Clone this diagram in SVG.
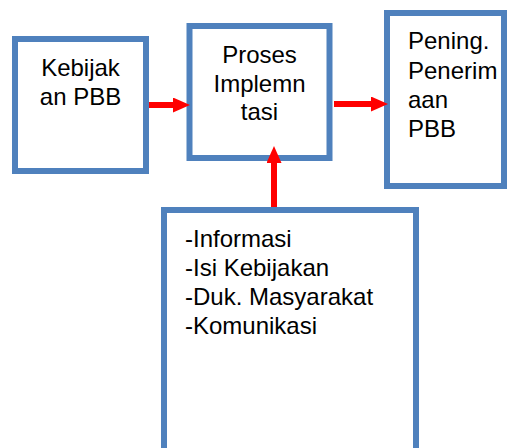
<svg xmlns="http://www.w3.org/2000/svg" width="507" height="448" viewBox="0 0 507 448">
<style>
.box{fill:#fff;stroke:#4F81BD;stroke-width:6}
.t{font-family:"Liberation Sans",Arial,sans-serif;font-size:24px;fill:#000}
.c{text-anchor:middle}
.arr{stroke:#FF0000;stroke-width:6;fill:none;marker-end:url(#ah)}
</style>
<defs>
<marker id="ah" viewBox="0 0 17 15" refX="0" refY="7.5" markerWidth="17" markerHeight="15" markerUnits="userSpaceOnUse" orient="auto">
<path d="M0,0 L17,7.5 L0,15 Z" fill="#FF0000"/>
</marker>
</defs>
<g id="kebijakan">
<rect class="box" x="15" y="39" width="131" height="132"/>
<text class="t c" x="80.5" y="76">Kebijak</text>
<text class="t c" x="80.5" y="105">an PBB</text>
</g>
<g id="proses">
<rect class="box" x="189.5" y="26" width="140" height="132"/>
<text class="t c" x="259.5" y="63">Proses</text>
<text class="t c" x="259.5" y="92">Implemn</text>
<text class="t c" x="259.5" y="120">tasi</text>
</g>
<g id="peningkatan">
<rect class="box" x="387" y="13" width="117" height="173"/>
<text class="t" x="408" y="49">Pening.</text>
<text class="t" x="408" y="79">Penerim</text>
<text class="t" x="408" y="108">aan</text>
<text class="t" x="408" y="137">PBB</text>
</g>
<g id="faktor">
<rect class="box" x="164" y="210" width="252" height="260"/>
<text class="t" x="185" y="247">-Informasi</text>
<text class="t" x="185" y="276">-Isi Kebijakan</text>
<text class="t" x="185" y="305">-Duk. Masyarakat</text>
<text class="t" x="185" y="334">-Komunikasi</text>
</g>
<g id="connectors">
<line class="arr" x1="149" y1="105" x2="173" y2="105"/>
<line class="arr" x1="334" y1="104" x2="371" y2="104"/>
<line class="arr" x1="274" y1="207" x2="274" y2="163"/>
</g>
</svg>
